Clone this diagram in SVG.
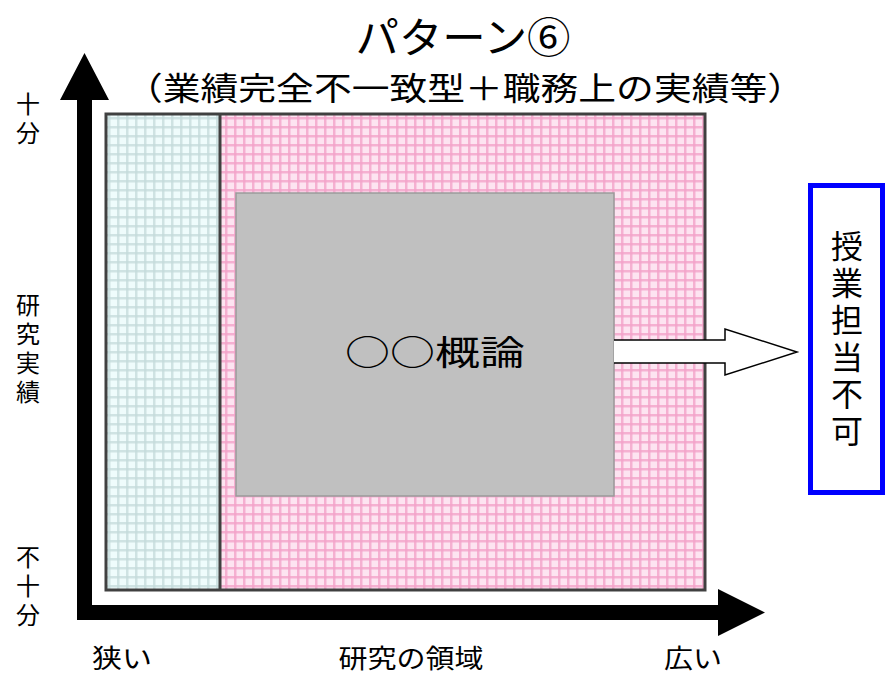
<svg xmlns="http://www.w3.org/2000/svg" width="886" height="675" viewBox="0 0 886 675">
<style>
.t{font-family:"Noto Sans CJK JP","Liberation Sans",sans-serif;fill:#000}
.ax{font-size:24px}
.v{writing-mode:vertical-rl;text-anchor:middle}
</style>
<defs>
<pattern id="cy" width="9" height="9" patternUnits="userSpaceOnUse">
<rect width="9" height="9" fill="#effcfc"/>
<rect x="0" y="0" width="2.5" height="9" fill="#c4dada" opacity="0.75"/>
<rect x="0" y="0" width="9" height="2.5" fill="#c4dada" opacity="0.75"/>
</pattern>
<pattern id="pk" width="9" height="9" patternUnits="userSpaceOnUse">
<rect width="9" height="9" fill="#fde4f1"/>
<rect x="0" y="0" width="2.5" height="9" fill="#f3a2c9" opacity="0.8"/>
<rect x="0" y="0" width="9" height="2.5" fill="#f3a2c9" opacity="0.8"/>
</pattern>
</defs>
<rect width="886" height="675" fill="#fff"/>
<g id="title">
<text class="t" x="463" y="53" font-size="42" text-anchor="middle" textLength="215" lengthAdjust="spacingAndGlyphs">パターン⑥</text>
<text class="t" x="465" y="100" font-size="32" text-anchor="middle" textLength="680" lengthAdjust="spacingAndGlyphs">（業績完全不一致型＋職務上の実績等）</text>
</g>
<g id="chart">
<rect x="106" y="114" width="114" height="476" fill="url(#cy)"/>
<rect x="220" y="114" width="485" height="476" fill="url(#pk)"/>
<rect x="106" y="114" width="599" height="476" fill="none" stroke="#404040" stroke-width="3"/>
<line x1="220" y1="114" x2="220" y2="590" stroke="#404040" stroke-width="3"/>
</g>
<g id="course">
<rect x="236" y="193" width="378" height="303" fill="#c0c0c0" stroke="#9a9a9a" stroke-width="1.5"/>
<text class="t" x="435" y="365" font-size="34" text-anchor="middle" textLength="180" lengthAdjust="spacingAndGlyphs">○○概論</text>
</g>
<g id="result">
<rect x="810.5" y="185.5" width="72" height="307" fill="#fff" stroke="#0000ff" stroke-width="5"/>
<text class="t v" x="847" y="341" font-size="32" letter-spacing="5">授業担当不可</text>
</g>
<g id="connectors">
<path d="M614,340 L725,340 L725,329 L797,352 L725,375 L725,363 L614,363" fill="#fff" stroke="#000" stroke-width="1.5"/>
<path d="M77,620 L77,100 L60,100 L84.5,53 L109,100 L92,100 L92,605 L718,605 L718,589 L765,612.5 L718,636 L718,620 Z" fill="#000"/>
</g>
<g id="axislabels">
<text class="t ax v" x="28" y="121" letter-spacing="5">十分</text>
<text class="t ax v" x="28" y="351" letter-spacing="5">研究実績</text>
<text class="t ax v" x="28" y="588" letter-spacing="5">不十分</text>
<text class="t" x="122" y="668" font-size="26" text-anchor="middle" textLength="60" lengthAdjust="spacingAndGlyphs">狭い</text>
<text class="t" x="411" y="668" font-size="26" text-anchor="middle" textLength="145" lengthAdjust="spacingAndGlyphs">研究の領域</text>
<text class="t" x="693" y="668" font-size="26" text-anchor="middle" textLength="58" lengthAdjust="spacingAndGlyphs">広い</text>
</g>
</svg>
